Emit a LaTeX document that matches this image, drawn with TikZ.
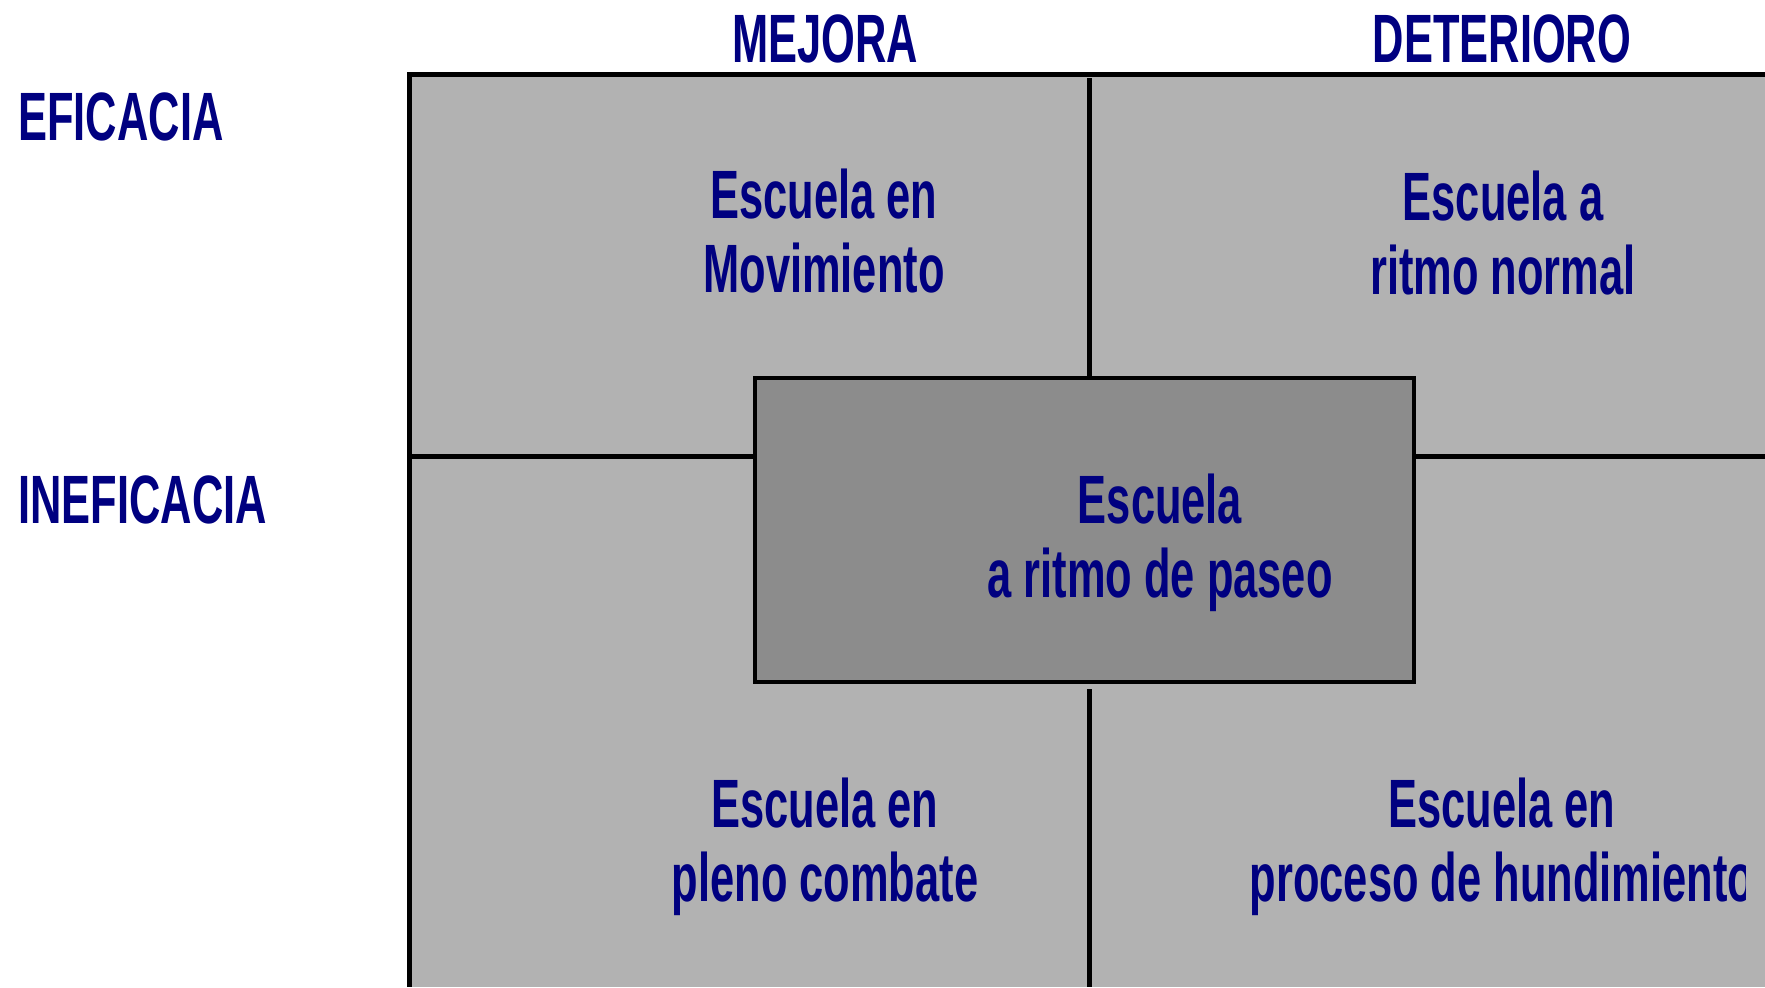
\documentclass[tikz,border=0pt]{standalone}
\usepackage{fontspec}
\newfontfamily\narrowfont[FakeStretch=0.635]{Liberation Sans}
\definecolor{navytext}{RGB}{0,0,128}
\definecolor{lightgr}{RGB}{178,178,178}
\definecolor{darkgr}{RGB}{140,140,140}
\tikzset{
  lbl/.style={text=navytext, inner sep=0pt, anchor=base,
    font=\narrowfont\bfseries\fontsize{34.2}{37}\selectfont, align=center},
  lbll/.style={lbl, anchor=base west, align=left},
  gridline/.style={draw=black, line width=2.5pt},
  innerline/.style={draw=black, line width=2.5pt},
  boxline/.style={draw=black, line width=2.2pt}
}
\begin{document}
\begin{tikzpicture}[x=0.5pt,y=-0.5pt]
\useasboundingbox (0,0) rectangle (1765,987);
% quadrant area
\fill[lightgr] (409,74) rectangle (1765,987);
\draw[gridline] (407,74.5) -- (1765,74.5);
\draw[gridline] (409.5,72) -- (409.5,987);
% centre box
\node[boxline, fill=darkgr, rectangle, minimum width=329.5pt, minimum height=152pt, inner sep=0pt] (box) at (1084.5,530) {};
% dividing lines
\coordinate (htl) at (409,456);
\coordinate (htr) at (1765,456);
\coordinate (vtt) at (1089,78);
\coordinate (vtb) at (1089,987);
\draw[innerline] (htl) -- (htl -| box.west);
\draw[innerline] (htr -| box.east) -- (htr);
\draw[innerline] (vtt) -- (vtt |- box.north);
\draw[innerline] ([yshift=-2.5pt]vtb |- box.south) -- (vtb);
% headers
\node[lbl] (mejora) at (825,62) {MEJORA};
\node[lbl] (deterioro) at (1502,62) {DETERIORO};
\node[lbll] (eficacia) at (18,140) {EFICACIA};
\node[lbll] (ineficacia) at (18,523) {INEFICACIA};
% quadrant texts (base anchor = last line)
\node[lbl] (tl) at (824,292) {Escuela en\\Movimiento};
\node[lbl] (tr) at (1503,294) {Escuela a\\ritmo normal};
\node[lbl] (ctr) at (1160,597) {Escuela\\a ritmo de paseo};
\node[lbl] (bl) at (825,901) {Escuela en\\pleno combate};
\begin{scope}
\clip (1100,700) rectangle (1745,987);
\node[lbl] (br) at (1502,901) {Escuela en\\proceso de hundimiento};
\end{scope}
\end{tikzpicture}
\end{document}
